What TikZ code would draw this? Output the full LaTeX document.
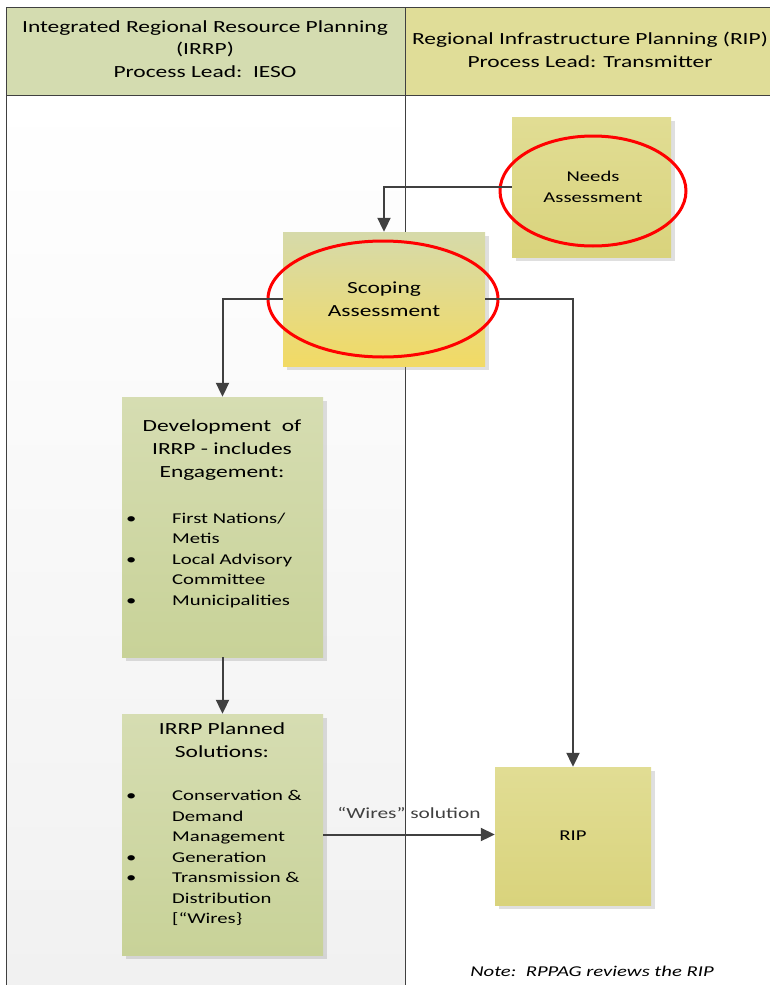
\documentclass[tikz,border=0pt]{standalone}
\usepackage{fontspec}
\setmainfont[FakeStretch=1.38]{Carlito}
\usetikzlibrary{shapes.geometric,
                arrows.meta, % for triangle tips
                shadows, % for box shadows
                positioning}
\definecolor{hdrleft}{RGB}{212,220,176}
\definecolor{hdrright}{RGB}{224,221,152}
\definecolor{greentop}{RGB}{214,221,178}
\definecolor{greenlow}{RGB}{200,210,152}
\definecolor{yellowtop}{RGB}{225,221,148}
\definecolor{yellowlow}{RGB}{217,211,124}
\definecolor{scopetop}{RGB}{214,218,170}
\definecolor{scopelow}{RGB}{242,218,100}
\definecolor{lanegray}{RGB}{241,241,241}
\definecolor{linegray}{RGB}{64,64,64}

\begin{document}
\begin{tikzpicture}[x=1pt, y=-1pt,
                    box/.style={rectangle, inner sep=0, drop shadow={shadow xshift=4pt, shadow yshift=-4pt, opacity=0.25, fill=gray}},
                    greenbox/.style={box, top color=greentop, bottom color=greenlow},
                    yellowbox/.style={box, top color=yellowtop, bottom color=yellowlow},
                    ring/.style={draw=red, line width=3pt, ellipse, inner sep=0},
                    flow/.style={-{Triangle[length=14pt,width=13pt]}, line width=2pt, linegray},
                    boxtext/.style={align=center, font=\fontsize{17}{23}\selectfont},
                    listtext/.style={anchor=west, inner sep=0, font=\fontsize{15}{20.5}\selectfont}
                    ]
    \useasboundingbox (0,0) rectangle (770,985);
    %lanes and headers
    \fill[top color=white, bottom color=lanegray] (6,95) rectangle (405,985);
    \fill[hdrleft] (6,7) rectangle (405,95);
    \fill[hdrright] (405,7) rectangle (780,95);
    \draw[linegray] (6,7) -- (780,7);
    \draw[linegray] (6,95) -- (780,95);
    \draw[linegray] (6,7) -- (6,985);
    \draw[linegray] (405,7) -- (405,985);
    \node[boxtext, font=\fontsize{17}{22.5}\selectfont] (irrphead) at (205,49) {Integrated Regional Resource Planning\\(IRRP)\\Process Lead:\ \ IESO};
    \node[boxtext, font=\fontsize{17}{23}\selectfont] (riphead) at (590,50) {Regional Infrastructure Planning (RIP)\\Process Lead: Transmitter};

    %boxes
    \node[yellowbox, minimum width=159, minimum height=140] at (591.5,187) (needs){};
    \node[box, top color=scopetop, bottom color=scopelow, minimum width=202, minimum height=134] at (384,299) (scoping){};
    \node[greenbox, minimum width=201, minimum height=260] at (222.5,527) (dev){};
    \node[greenbox, minimum width=201, minimum height=241] at (222.5,834.5) (sol){};
    \node[yellowbox, minimum width=156, minimum height=138] at (573,836) (rip){};

    %box texts
    \node[boxtext, font=\fontsize{15}{21}\selectfont] at (593,187) (needstext) {Needs\\Assessment};
    \node[boxtext] at (384,299) (scopingtext) {Scoping\\Assessment};
    \node[boxtext] at (222,450) (devhead) {Development\ \ of\\IRRP - includes\\Engagement:};
    \node[listtext] at (126,560) (devlist) {\begin{tabular}{@{}p{46pt}@{}l@{}}
        \textbullet & First Nations/\\ & Metis\\
        \textbullet & Local Advisory\\ & Committee\\
        \textbullet & Municipalities
      \end{tabular}};
    \node[boxtext] at (222,740) (solhead) {IRRP Planned\\Solutions:};
    \node[listtext] at (126,858) (sollist) {\begin{tabular}{@{}p{46pt}@{}l@{}}
        \textbullet & Conservation \&\\ & Demand\\ & Management\\
        \textbullet & Generation\\
        \textbullet & Transmission \&\\ & Distribution\\ & [“Wires\}
      \end{tabular}};
    \node[boxtext, font=\fontsize{15}{20}\selectfont] at (573,836) (riptext) {RIP};

    %red rings
    \node[ring, minimum width=186, minimum height=110] at (593,191) (needsring){};
    \node[ring, minimum width=230, minimum height=116] at (383,299) (scopingring){};

    %connectors
    \draw[flow] (needs.west) -| (scoping.north);
    \draw[flow] (scoping.west) -| (dev.north);
    \draw[flow] (scoping.east) -| (rip.north);
    \draw[flow] (dev.south) -- (sol.north);
    \draw[flow] (sol.east) -- (sol.east -| rip.west)
        node[midway, above=12pt, boxtext, font=\fontsize{15.5}{20}\selectfont] (wires) {“Wires” solution};

    \node[font=\fontsize{15}{20}\selectfont\itshape] at (592,971) (note) {Note:\ \ RPPAG reviews the RIP};
\end{tikzpicture}
\end{document}
